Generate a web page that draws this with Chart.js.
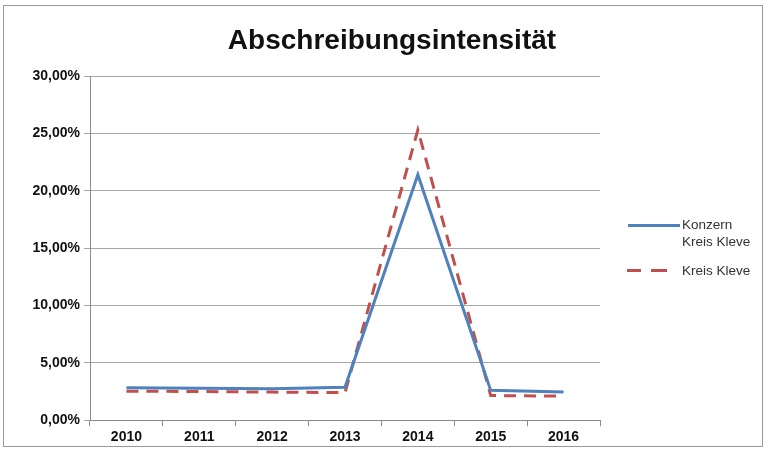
<!DOCTYPE html>
<html>
<head>
<meta charset="utf-8">
<script src="https://cdn.jsdelivr.net/npm/chart.js@4.4.1/dist/chart.umd.min.js"></script>
<style>
  html, body { margin: 0; padding: 0; background: #fff; }
  #wrap { position: relative; width: 769px; height: 454px; overflow: hidden; }
  #frame { position: absolute; left: 3px; top: 5px; width: 760px; height: 442px; border: 1px solid #9a9a9a; box-sizing: border-box; }
  #title { position: absolute; left: 0; width: 784px; top: 24px; text-align: center;
           font: bold 28px "Liberation Sans", Arial, sans-serif; color: #111; }
  #legend { position: absolute; left: 626px; top: 216px; font: 13.5px "Liberation Sans", Arial, sans-serif; color: #333; }
  .item { position: relative; padding-left: 56px; line-height: 17px; }
  .solid { position: absolute; left: 2px; top: 8px; width: 52px; height: 3px; background: #4f81bd; }
  .dash { position: absolute; left: 1px; top: 7px; width: 40px; height: 3px;
          background: linear-gradient(to right, #c0504d 0 14px, transparent 14px 24px, #c0504d 24px 40px); }
</style>
</head>
<body>
<div id="wrap">
  <div id="frame"></div>
  <canvas id="lineChart" width="769" height="454"></canvas>
  <div id="title">Abschreibungsintensität</div>
  <div id="legend">
    <div class="item"><span class="solid"></span>Konzern<br>Kreis Kleve</div>
    <div class="item" style="margin-top:12px"><span class="dash"></span>Kreis Kleve</div>
  </div>
</div>
<script>
// Years on the x axis.
const years = ['2010', '2011', '2012', '2013', '2014', '2015', '2016'];

// Values in percent.
const konzernValues = [2.82, 2.78, 2.75, 2.88, 21.4, 2.6, 2.45];
const kreisValues = [2.53, 2.5, 2.45, 2.4, 25.3, 2.15, 2.1];

// Y axis range and step in percent.
const yMin = 0;
const yMax = 30;
const yStep = 5;

const ctx = document.getElementById('lineChart').getContext('2d');

new Chart(ctx, {
    type: 'line',
    data: {
        labels: years,
        datasets: [{
            label: 'Konzern Kreis Kleve',
            data: konzernValues,
            borderColor: '#4f81bd',
            borderWidth: 3,
            pointRadius: 0,
            tension: 0
        }, {
            label: 'Kreis Kleve',
            data: kreisValues,
            borderColor: '#c0504d',
            borderWidth: 3,
            borderDash: [12, 8],
            pointRadius: 0,
            tension: 0
        }]
    },
    options: {
        responsive: false,
        animation: false,
        layout: {
            padding: { top: 76, right: 169, left: 10, bottom: 5 }
        },
        scales: {
            x: {
                offset: true,
                grid: {
                    offset: true,
                    drawOnChartArea: false,
                    tickLength: 6,
                    color: '#8c8c8c'
                },
                border: { color: '#8c8c8c' },
                ticks: {
                    color: '#111',
                    padding: 3,
                    font: { family: 'Liberation Sans', size: 14, weight: 'bold' }
                }
            },
            y: {
                min: yMin,
                max: yMax,
                afterFit: scale => { scale.width = 80; },
                grid: {
                    color: '#a6a6a6',
                    tickLength: 6
                },
                border: { color: '#8c8c8c' },
                ticks: {
                    stepSize: yStep,
                    color: '#111',
                    padding: 4,
                    font: { family: 'Liberation Sans', size: 14, weight: 'bold' },
                    callback: v => v.toFixed(2).replace('.', ',') + '%'
                }
            }
        },
        plugins: {
            legend: { display: false },
            title: { display: false },
            tooltip: { enabled: false }
        }
    }
});
</script>
</body>
</html>
